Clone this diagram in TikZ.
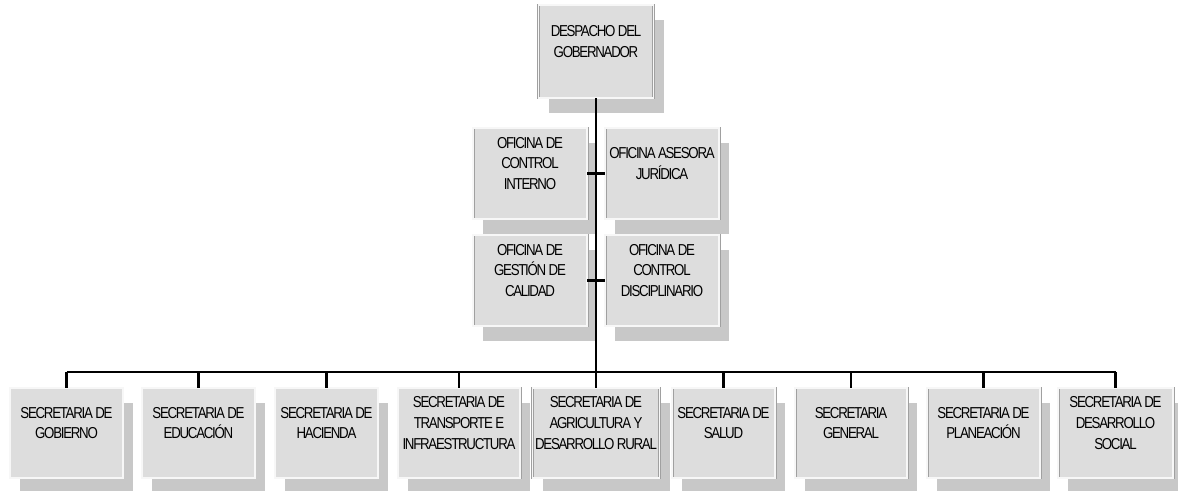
\documentclass[tikz,border=0pt]{standalone}
\usepackage{fontspec}
\usepackage{tikz}
\usetikzlibrary{shadows}
\newfontfamily\orgfont[LetterSpace=-8, FakeStretch=0.84]{Liberation Sans}
\definecolor{cfill}  {RGB}{221,221,221}
\definecolor{cshade} {RGB}{200,200,200}
\definecolor{cedge}  {RGB}{160,160,160}
\tikzset{
  ob/.style={rectangle, draw=cedge, double=gray!6, double distance=0.7pt,
             line width=0.5pt, fill=cfill,
             minimum width=#1, minimum height=1.8cm, inner sep=0pt,
             general shadow={fill=cshade, shadow xshift=0.2cm, shadow yshift=-0.3cm}},
  ob/.default=2.26cm,
  txt/.style={font=\orgfont\fontsize{9}{11.8}\selectfont, align=center,
              inner sep=0pt, yshift=0.2cm},
  ln/.style={draw=black, line width=1.4pt},
}

\begin{document}
\begin{tikzpicture}
  \useasboundingbox (0,0) rectangle (23.56,-9.82);

  % ── Despacho ──────────────────────────────────────────────────────────────
  \node[ob=2.3cm, minimum height=1.86cm,
        label={[txt]center:{DESPACHO DEL\\GOBERNADOR}}] at (11.92,-1.03) (desp) {};

  % ── Oficinas asesoras ─────────────────────────────────────────────────────
  \node[ob=2.28cm, minimum height=1.82cm,
        label={[txt]center:{OFICINA DE\\CONTROL\\INTERNO}}] at (10.60,-3.47) (cint) {};
  \node[ob=2.28cm, minimum height=1.82cm,
        label={[txt]center:{OFICINA ASESORA\\JURÍDICA}}] at (13.24,-3.47) (ojur) {};
  \node[ob=2.28cm, minimum height=1.82cm,
        label={[txt]center:{OFICINA DE\\GESTIÓN DE\\CALIDAD}}] at (10.60,-5.61) (gcal) {};
  \node[ob=2.28cm, minimum height=1.82cm,
        label={[txt]center:{OFICINA DE\\CONTROL\\DISCIPLINARIO}}] at (13.24,-5.61) (cdis) {};

  % ── Secretarías ───────────────────────────────────────────────────────────
  \node[ob, label={[txt]center:{SECRETARIA DE\\GOBIERNO}}]
        at (1.33,-8.66) (sgob) {};
  \node[ob, label={[txt]center:{SECRETARIA DE\\EDUCACIÓN}}]
        at (3.97,-8.66) (sedu) {};
  \node[ob=2.06cm, label={[txt]center:{SECRETARIA DE\\HACIENDA}}]
        at (6.53,-8.66) (shac) {};
  \node[ob=2.44cm, label={[txt]center:{SECRETARIA DE\\TRANSPORTE E\\INFRAESTRUCTURA}}]
        at (9.18,-8.66) (stra) {};
  \node[ob=2.54cm, label={[txt]center:{SECRETARIA DE\\AGRICULTURA Y\\DESARROLLO RURAL}}]
        at (11.92,-8.66) (sagr) {};
  \node[ob=2.06cm, label={[txt]center:{SECRETARIA DE\\SALUD}}]
        at (14.47,-8.66) (ssal) {};
  \node[ob=2.24cm, label={[txt]center:{SECRETARIA\\GENERAL}}]
        at (17.02,-8.66) (sgen) {};
  \node[ob, label={[txt]center:{SECRETARIA DE\\PLANEACIÓN}}]
        at (19.67,-8.66) (spla) {};
  \node[ob=2.3cm, label={[txt]center:{SECRETARIA DE\\DESARROLLO\\SOCIAL}}]
        at (22.31,-8.66) (ssoc) {};

  % ── Líneas ────────────────────────────────────────────────────────────────
  \coordinate (bus) at (0,-7.44);
  \draw[ln] (desp.south) -- (sagr.north);
  \draw[ln] (cint.east) -- (ojur.west);
  \draw[ln] (gcal.east) -- (cdis.west);
  \draw[ln] (sgob.north |- bus) -- (ssoc.north |- bus);
  \foreach \s in {sgob, sedu, shac, stra, ssal, sgen, spla, ssoc}
    \draw[ln] (\s.north) -- (\s.north |- bus);
\end{tikzpicture}
\end{document}
